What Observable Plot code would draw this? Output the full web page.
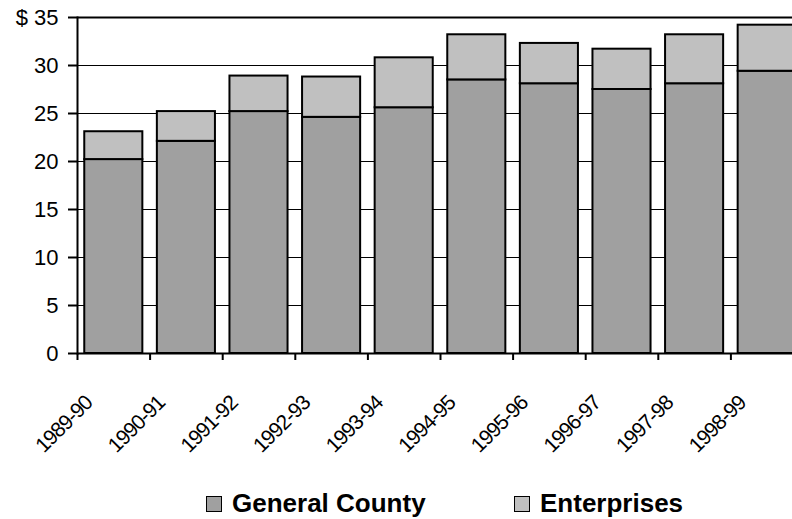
<!DOCTYPE html>
<html><head><meta charset="utf-8">
<script src="https://cdn.jsdelivr.net/npm/d3@7"></script>
<script src="https://cdn.jsdelivr.net/npm/@observablehq/plot@0.6"></script>
<style>
body{margin:0;background:#fff;font-family:"Liberation Sans",Arial,sans-serif;}
#chart svg{display:block;}
#legend{position:relative;height:31px;width:792px;}
.item{position:absolute;top:0;display:flex;align-items:center;font-weight:bold;font-size:26px;line-height:31px;color:#000;}
.sw{width:14px;height:14px;border:1.5px solid #000;margin-right:10px;}
.xl text{letter-spacing:-1px;}
</style></head><body><div id="chart"></div><div id="legend"></div>
<script>
const years = ["1989-90","1990-91","1991-92","1992-93","1993-94","1994-95","1995-96","1996-97","1997-98","1998-99"];
const generalCounty = [20.2, 22.1, 25.2, 24.6, 25.6, 28.5, 28.1, 27.5, 28.1, 29.4];
const enterprises = [2.9, 3.1, 3.7, 4.2, 5.2, 4.7, 4.2, 4.2, 5.1, 4.8];
const seriesNames = ["General County", "Enterprises"];
const seriesColors = ["#a0a0a0", "#c0c0c0"];
const yTicks = [0, 5, 10, 15, 20, 25, 30, 35];

const data = years.flatMap((y, i) => [
  {year: y, series: seriesNames[0], value: generalCounty[i]},
  {year: y, series: seriesNames[1], value: enterprises[i]}
]);

const chart = Plot.plot({
  width: 792, height: 488,
  marginLeft: 77, marginTop: 17, marginBottom: 135, marginRight: 0,
  style: {fontFamily: "Liberation Sans, Arial, sans-serif", background: "#fff", color: "#000"},
  x: {domain: years, range: [77, 803], paddingInner: 0.2, paddingOuter: 0.1, round: false, axis: null},
  y: {domain: [0, 35], range: [353, 17], axis: null},
  color: {domain: seriesNames, range: seriesColors},
  marks: [
    Plot.ruleY(yTicks.filter(d => d > 0 && d < 35), {stroke: "#000", strokeWidth: 1}),
    Plot.barY(data, {x: "year", y: "value", fill: "series", stroke: "#000", strokeWidth: 2}),
    Plot.ruleY([35], {stroke: "#000", strokeWidth: 2}),
    Plot.ruleY([0], {stroke: "#000", strokeWidth: 2}),
    Plot.frame({anchor: "left", stroke: "#000", strokeWidth: 2}),
    Plot.axisY(yTicks, {tickSize: 9, tickPadding: 10, strokeWidth: 2, fontSize: 22, label: null,
      tickFormat: d => d === 35 ? "$ 35" : String(d)}),
    Plot.axisX({tickSize: 7, strokeWidth: 2, dx: -36.3, tickFormat: () => "", label: null}),
    Plot.axisX({tickSize: 0, tickPadding: 0, tickRotate: -45, fontSize: 21, dx: -25, dy: 46, label: null, className: "xl"})
  ]
});
document.getElementById("chart").appendChild(chart);

const legend = document.getElementById("legend");
const lefts = [206, 514];
seriesNames.forEach((name, i) => {
  const item = document.createElement("div");
  item.className = "item";
  item.style.left = lefts[i] + "px";
  const sw = document.createElement("div");
  sw.className = "sw";
  sw.style.background = seriesColors[i];
  item.appendChild(sw);
  item.appendChild(document.createTextNode(name));
  legend.appendChild(item);
});
</script></body></html>
